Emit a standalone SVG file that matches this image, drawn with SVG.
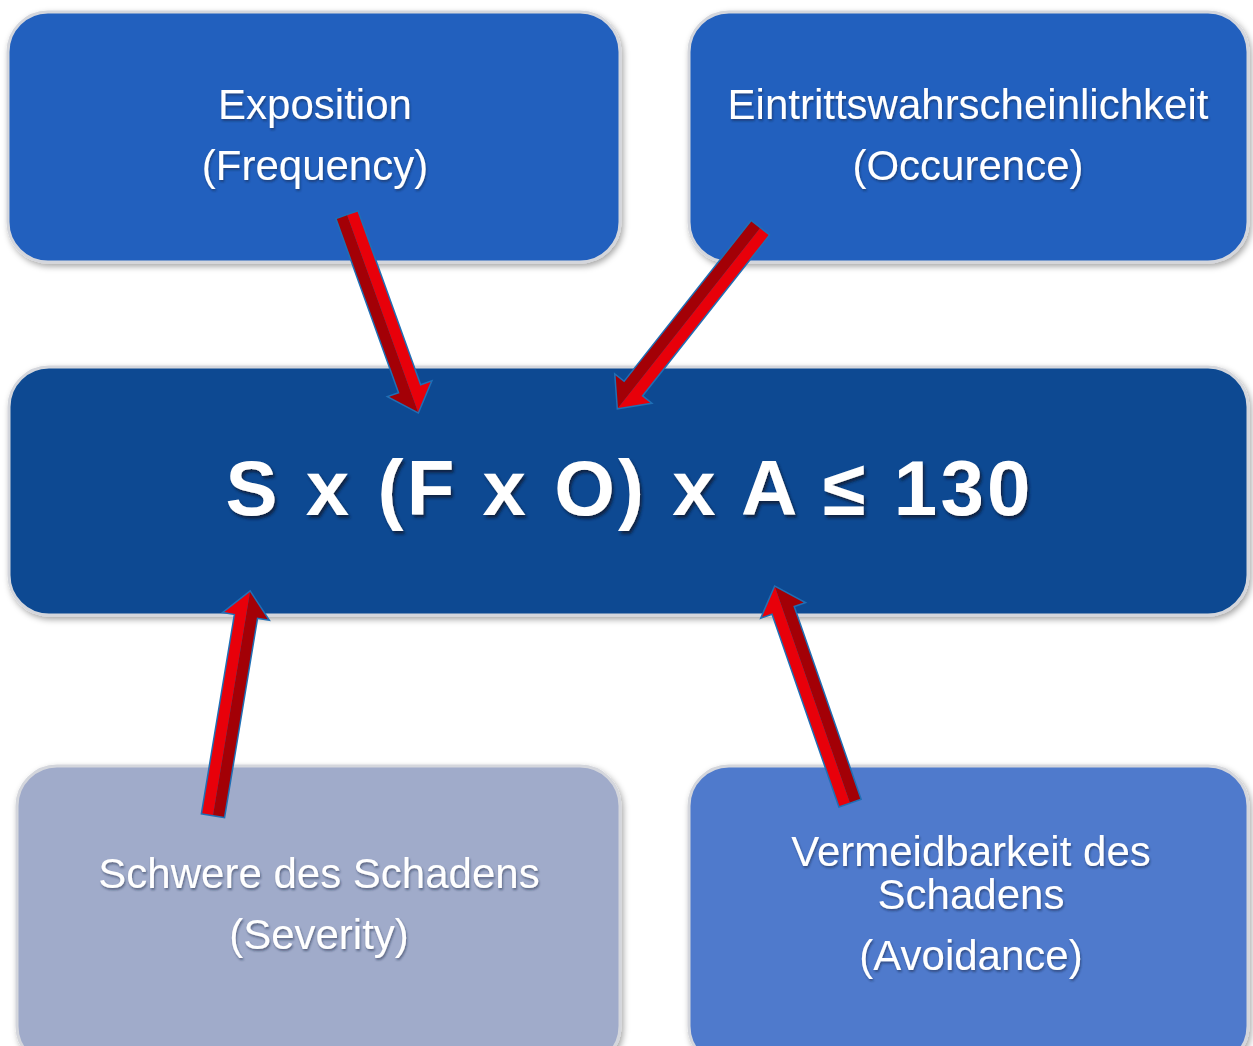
<svg xmlns="http://www.w3.org/2000/svg" width="1253" height="1046" viewBox="0 0 1253 1046">
<style>
.box{stroke:#d4d6dc;stroke-width:3}
.lbl{font-family:"Liberation Sans",Arial,sans-serif;font-size:42px;fill:#ffffff;text-anchor:middle}
.main{font-family:"Liberation Sans",Arial,sans-serif;font-size:78px;font-weight:bold;fill:#ffffff;text-anchor:middle}
.aout{fill:#1f6fb5;stroke:#1f6fb5;stroke-width:3;stroke-linejoin:miter}
.alt{fill:#e8000a}
.adk{fill:#a30006}
</style>
<defs>
<filter id="bsh" x="-5%" y="-5%" width="110%" height="115%">
<feDropShadow dx="2" dy="3" stdDeviation="3" flood-color="#000" flood-opacity="0.35"/>
</filter>
<filter id="tsh" x="-5%" y="-20%" width="110%" height="140%">
<feDropShadow dx="2" dy="3" stdDeviation="1.5" flood-color="#0a1a3a" flood-opacity="0.9"/>
</filter>
<filter id="lsh" x="-5%" y="-20%" width="110%" height="140%">
<feDropShadow dx="1" dy="2" stdDeviation="1" flood-color="#0a1a3a" flood-opacity="0.5"/>
</filter>
</defs>
<rect width="1253" height="1046" fill="#ffffff"/>

<g id="node-exposition">
<rect class="box" x="8" y="12" width="612" height="250" rx="40" fill="#2160be" filter="url(#bsh)"/>
<text class="lbl" x="315" y="119" filter="url(#lsh)">Exposition</text>
<text class="lbl" x="315" y="180" filter="url(#lsh)">(Frequency)</text>
</g>

<g id="node-occurence">
<rect class="box" x="689" y="12" width="559" height="250" rx="40" fill="#2160be" filter="url(#bsh)"/>
<text class="lbl" x="968" y="119" filter="url(#lsh)">Eintrittswahrscheinlichkeit</text>
<text class="lbl" x="968" y="180" filter="url(#lsh)">(Occurence)</text>
</g>

<g id="node-formula">
<rect class="box" x="9" y="367" width="1239" height="248" rx="40" fill="#0a4a92" filter="url(#bsh)"/>
<text class="main" x="628" y="515" filter="url(#tsh)" textLength="805" lengthAdjust="spacing">S x (F x O) x A ≤ 130</text>
</g>

<g id="node-severity">
<rect class="box" x="17" y="766" width="603" height="300" rx="40" fill="#a0abca" filter="url(#bsh)"/>
<text class="lbl" x="319" y="888" filter="url(#lsh)">Schwere des Schadens</text>
<text class="lbl" x="319" y="949" filter="url(#lsh)">(Severity)</text>
</g>

<g id="node-avoidance">
<rect class="box" x="689" y="766" width="559" height="300" rx="40" fill="#4f7acc" filter="url(#bsh)"/>
<text class="lbl" x="971" y="866" filter="url(#lsh)">Vermeidbarkeit  des</text>
<text class="lbl" x="971" y="909" filter="url(#lsh)">Schadens</text>
<text class="lbl" x="971" y="970" filter="url(#lsh)">(Avoidance)</text>
</g>

<g id="connectors">
<g transform="translate(418,412) rotate(160.2)">
<path class="aout" d="M0,0 L22,24 L11,24 L11,209 L-11,209 L-11,24 L-22,24 Z"/>
<path class="alt" d="M0,0 L-22,24 L-11,24 L-11,209 L0,209 Z"/>
<path class="adk" d="M0,0 L22,24 L11,24 L11,209 L0,209 Z"/>
</g>
<g transform="translate(618,408) rotate(-141.7)">
<path class="aout" d="M0,0 L22,24 L11,24 L11,229 L-11,229 L-11,24 L-22,24 Z"/>
<path class="alt" d="M0,0 L-22,24 L-11,24 L-11,229 L0,229 Z"/>
<path class="adk" d="M0,0 L22,24 L11,24 L11,229 L0,229 Z"/>
</g>
<g transform="translate(250,592) rotate(9.4)">
<path class="aout" d="M0,0 L22,24 L11,24 L11,226 L-11,226 L-11,24 L-22,24 Z"/>
<path class="alt" d="M0,0 L-22,24 L-11,24 L-11,226 L0,226 Z"/>
<path class="adk" d="M0,0 L22,24 L11,24 L11,226 L0,226 Z"/>
</g>
<g transform="translate(775,587) rotate(-19.15)">
<path class="aout" d="M0,0 L22,24 L11,24 L11,228 L-11,228 L-11,24 L-22,24 Z"/>
<path class="alt" d="M0,0 L-22,24 L-11,24 L-11,228 L0,228 Z"/>
<path class="adk" d="M0,0 L22,24 L11,24 L11,228 L0,228 Z"/>
</g>
</g>
</svg>
